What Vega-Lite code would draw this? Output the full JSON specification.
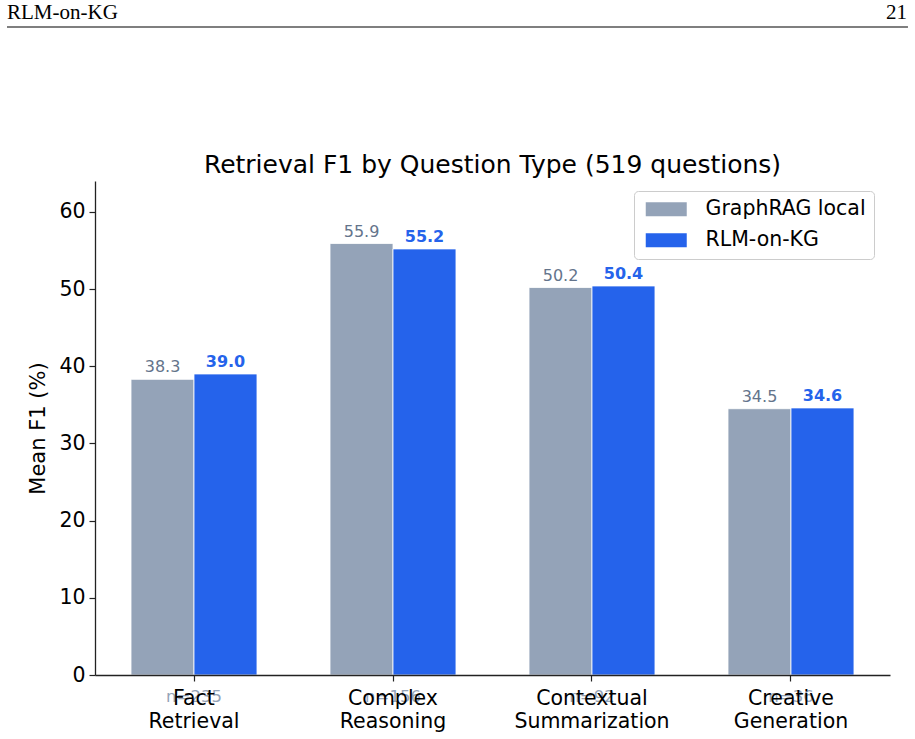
{
  "$schema": "https://vega.github.io/schema/vega-lite/v6.json",
  "width": 795,
  "height": 494,
  "autosize": {"type": "none"},
  "padding": {"left": 95, "top": 181, "right": 25, "bottom": 64},
  "background": "white",
  "config": {
    "font": "DejaVu Sans",
    "view": {"stroke": null},
    "axis": {"grid": false}
  },
  "title": {
    "text": "Retrieval F1 by Question Type (519 questions)",
    "fontSize": 25,
    "fontWeight": "normal",
    "color": "black",
    "font": "DejaVu Sans",
    "anchor": "middle",
    "frame": "group",
    "offset": 4,
    "dy": 180
  },
  "datasets": {
    "scores": [
      {"category": "Fact Retrieval", "system": "GraphRAG local", "f1": 38.3},
      {"category": "Fact Retrieval", "system": "RLM-on-KG", "f1": 39.0},
      {"category": "Complex Reasoning", "system": "GraphRAG local", "f1": 55.9},
      {"category": "Complex Reasoning", "system": "RLM-on-KG", "f1": 55.2},
      {"category": "Contextual Summarization", "system": "GraphRAG local", "f1": 50.2},
      {"category": "Contextual Summarization", "system": "RLM-on-KG", "f1": 50.4},
      {"category": "Creative Generation", "system": "GraphRAG local", "f1": 34.5},
      {"category": "Creative Generation", "system": "RLM-on-KG", "f1": 34.6}
    ],
    "counts": [
      {"category": "Fact Retrieval", "label": "n=235", "ypos": -2.9},
      {"category": "Complex Reasoning", "label": "n=156", "ypos": -2.9},
      {"category": "Contextual Summarization", "label": "n=92", "ypos": -2.9},
      {"category": "Creative Generation", "label": "n=36", "ypos": -2.9}
    ],
    "header": [
      {"kind": "left", "label": "RLM-on-KG", "px": -0.1107, "py": 85.8},
      {"kind": "right", "label": "21", "px": 1.0214, "py": 85.8}
    ],
    "rule": [
      {"x1": -0.1107, "x2": 1.0226, "yv": 83.95}
    ]
  },
  "layer": [
    {
      "layer": [
        {
          "data": {"name": "scores"},
          "mark": {"type": "bar", "stroke": "white", "strokeWidth": 0.8},
          "encoding": {
            "x": {
              "field": "category",
              "type": "nominal",
              "sort": ["Fact Retrieval", "Complex Reasoning", "Contextual Summarization", "Creative Generation"],
              "scale": {"paddingInner": 0.367, "paddingOuter": 0.181},
              "axis": {
                "title": null,
                "labelAngle": 0,
                "labelExpr": "split(datum.label, ' ')",
                "labelFontSize": 20.5,
                "labelColor": "black",
                "labelLineHeight": 23,
                "labelPadding": 7,
                "labelBaseline": "top",
                "tickSize": 6,
                "tickColor": "#222",
                "tickWidth": 1.2,
                "domainColor": "#222",
                "domainWidth": 1.3,
                "zindex": 1
              }
            },
            "xOffset": {
              "field": "system",
              "type": "nominal",
              "sort": ["GraphRAG local", "RLM-on-KG"],
              "scale": {"paddingInner": 0, "paddingOuter": 0}
            },
            "y": {
              "field": "f1",
              "type": "quantitative",
              "scale": {"domain": [0, 64], "nice": false, "zero": true},
              "axis": {
                "title": "Mean F1 (%)",
                "titleFontSize": 21,
                "titleFontWeight": "normal",
                "titleColor": "black",
                "titlePadding": 10,
                "values": [0, 10, 20, 30, 40, 50, 60],
                "labelFontSize": 20.5,
                "labelColor": "black",
                "labelPadding": 4,
                "tickSize": 6,
                "tickColor": "#222",
                "tickWidth": 1.2,
                "domainColor": "#222",
                "domainWidth": 1.3
              }
            },
            "color": {
              "field": "system",
              "type": "nominal",
              "sort": ["GraphRAG local", "RLM-on-KG"],
              "scale": {"domain": ["GraphRAG local", "RLM-on-KG"], "range": ["#94a3b8", "#2563eb"]},
              "legend": {
                "title": null,
                "orient": "none",
                "legendX": 539,
                "legendY": 10,
                "padding": 8,
                "rowPadding": 10,
                "labelFontSize": 20.5,
                "labelLimit": 400,
                "labelColor": "black",
                "labelOffset": 29,
                "symbolType": "M-2.5,-0.85H2.5V0.85H-2.5Z",
                "symbolSize": 269,
                "symbolStrokeWidth": 0,
                "symbolOffset": 14,
                "strokeColor": "#cccccc",
                "fillColor": "white",
                "cornerRadius": 4
              }
            }
          }
        },
        {
          "data": {"name": "scores"},
          "transform": [{"filter": "datum.system === 'GraphRAG local'"}],
          "mark": {"type": "text", "baseline": "alphabetic", "dy": -7, "fontSize": 16, "color": "#64748b"},
          "encoding": {
            "x": {"field": "category", "type": "nominal", "sort": ["Fact Retrieval", "Complex Reasoning", "Contextual Summarization", "Creative Generation"]},
            "xOffset": {"field": "system", "type": "nominal", "sort": ["GraphRAG local", "RLM-on-KG"]},
            "y": {"field": "f1", "type": "quantitative"},
            "text": {"field": "f1", "type": "quantitative", "format": ".1f"}
          }
        },
        {
          "data": {"name": "scores"},
          "transform": [{"filter": "datum.system === 'RLM-on-KG'"}],
          "mark": {"type": "text", "baseline": "alphabetic", "dy": -7, "fontSize": 16, "fontWeight": "bold", "color": "#2563eb"},
          "encoding": {
            "x": {"field": "category", "type": "nominal", "sort": ["Fact Retrieval", "Complex Reasoning", "Contextual Summarization", "Creative Generation"]},
            "xOffset": {"field": "system", "type": "nominal", "sort": ["GraphRAG local", "RLM-on-KG"]},
            "y": {"field": "f1", "type": "quantitative"},
            "text": {"field": "f1", "type": "quantitative", "format": ".1f"}
          }
        },
        {
          "data": {"name": "counts"},
          "mark": {"type": "text", "baseline": "middle", "fontSize": 16.5, "color": "#94a3b8"},
          "encoding": {
            "x": {"field": "category", "type": "nominal", "sort": ["Fact Retrieval", "Complex Reasoning", "Contextual Summarization", "Creative Generation"]},
            "y": {"field": "ypos", "type": "quantitative"},
            "text": {"field": "label", "type": "nominal"}
          }
        }
      ]
    },
    {
      "layer": [
        {
          "data": {"name": "header"},
          "transform": [{"filter": "datum.kind === 'left'"}],
          "mark": {"type": "text", "align": "left", "baseline": "middle", "font": "Liberation Serif", "fontSize": 21, "color": "black"},
          "encoding": {
            "x": {"field": "px", "type": "quantitative", "scale": {"domain": [0, 1], "nice": false, "zero": false}, "axis": null},
            "y": {"field": "py", "type": "quantitative"},
            "text": {"field": "label", "type": "nominal"}
          }
        },
        {
          "data": {"name": "header"},
          "transform": [{"filter": "datum.kind === 'right'"}],
          "mark": {"type": "text", "align": "right", "baseline": "middle", "font": "Liberation Serif", "fontSize": 21, "color": "black"},
          "encoding": {
            "x": {"field": "px", "type": "quantitative", "axis": null},
            "y": {"field": "py", "type": "quantitative"},
            "text": {"field": "label", "type": "nominal"}
          }
        },
        {
          "data": {"name": "rule"},
          "mark": {"type": "rule", "color": "black", "strokeWidth": 1.2},
          "encoding": {
            "x": {"field": "x1", "type": "quantitative", "axis": null},
            "x2": {"field": "x2"},
            "y": {"field": "yv", "type": "quantitative"}
          }
        }
      ]
    }
  ],
  "resolve": {"scale": {"x": "independent"}, "axis": {"x": "independent"}}
}
